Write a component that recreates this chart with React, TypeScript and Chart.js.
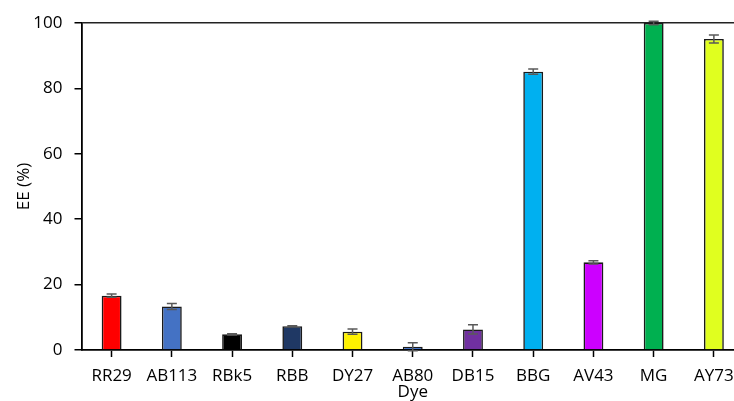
import React, { useEffect, useRef } from "react";
import { Chart, registerables } from "chart.js";

Chart.register(...registerables);

const dyes = ["RR29", "AB113", "RBk5", "RBB", "DY27", "AB80", "DB15", "BBG", "AV43", "MG", "AY73"];
const eeValues = [16.6, 13.3, 4.8, 7.3, 5.6, 1.0, 6.3, 85.1, 26.8, 100, 95.1];
const eeErrors = [0.5, 0.9, 0.2, 0.1, 0.8, 1.2, 1.4, 0.8, 0.5, 0.5, 1.2];
const barColors = [
  "#FF0000", "#4472C4", "#000000", "#1F3864", "#FFF200", "#4472C4",
  "#7030A0", "#00B0F0", "#CC00FF", "#00B050", "#E0FF1F",
];
const yTicks = [0, 20, 40, 60, 80, 100];

const FONT = "'Open Sans', 'Liberation Sans', sans-serif";

// Draws symmetric error bars with caps on top of each bar
const errorBarPlugin = {
  id: "errorBars",
  afterDatasetsDraw(chart: any) {
    const { ctx, scales } = chart;
    const meta = chart.getDatasetMeta(0);
    const y = scales.y;
    ctx.save();
    ctx.strokeStyle = "#595959";
    ctx.lineWidth = 1.5;
    meta.data.forEach((bar: any, i: number) => {
      const v = eeValues[i];
      const e = eeErrors[i];
      const yTop = y.getPixelForValue(v + e);
      const yBot = y.getPixelForValue(v - e);
      const cap = 5;
      ctx.beginPath();
      ctx.moveTo(bar.x, yTop);
      ctx.lineTo(bar.x, yBot);
      ctx.moveTo(bar.x - cap, yTop);
      ctx.lineTo(bar.x + cap, yTop);
      ctx.moveTo(bar.x - cap, yBot);
      ctx.lineTo(bar.x + cap, yBot);
      ctx.stroke();
    });
    ctx.restore();
  },
};

export default function App() {
  const canvasRef = useRef<HTMLCanvasElement | null>(null);

  useEffect(() => {
    if (!canvasRef.current) return;
    const chart = new Chart(canvasRef.current, {
      type: "bar",
      data: {
        labels: dyes,
        datasets: [
          {
            data: eeValues,
            backgroundColor: barColors,
            borderColor: "#1a1a1a",
            borderWidth: 1.6,
            barPercentage: 0.66,
            categoryPercentage: 0.5,
          },
        ],
      },
      options: {
        responsive: false,
        animation: false,
        devicePixelRatio: 1,
        layout: { padding: { top: 23, right: 0, bottom: 0, left: 0 } },
        plugins: {
          legend: { display: false },
          tooltip: { enabled: false },
        },
        scales: {
          x: {
            offset: true,
            afterFit: (scale: any) => {
              scale.height = 51;
            },
            grid: {
              offset: false,
              drawOnChartArea: false,
              drawTicks: true,
              tickLength: 7,
              tickColor: "#000",
              tickWidth: 1.5,
            },
            border: { display: true, color: "#000", width: 1.8 },
            ticks: {
              color: "#000",
              padding: 9,
              maxRotation: 0,
              autoSkip: false,
              font: { family: FONT, size: 17 },
            },
            title: {
              display: true,
              text: "Dye",
              color: "#000",
              padding: { top: 0, bottom: 0 },
              font: { family: FONT, size: 17, lineHeight: 1 },
            },
          },
          y: {
            min: 0,
            max: 100,
            afterFit: (scale: any) => {
              scale.width = 81.5;
            },
            afterBuildTicks: (scale: any) => {
              scale.ticks = yTicks.map((v) => ({ value: v }));
            },
            grid: {
              drawOnChartArea: true,
              color: (c: any) => (c.tick && c.tick.value === 100 ? "#222" : "rgba(0,0,0,0)"),
              lineWidth: 1.5,
              drawTicks: true,
              tickLength: 7,
              tickColor: "#000",
              tickWidth: 1.5,
            },
            border: { display: true, color: "#000", width: 1.8 },
            ticks: {
              color: "#000",
              padding: 12,
              font: { family: FONT, size: 17 },
            },
            title: {
              display: true,
              text: "EE (%)",
              color: "#000",
              padding: { top: 14, bottom: 0 },
              font: { family: FONT, size: 17 },
            },
          },
        },
      },
      plugins: [errorBarPlugin],
    });
    return () => chart.destroy();
  }, []);

  return (
    <div
      style={{
        position: "fixed",
        left: 0,
        top: 0,
        width: 734,
        height: 401,
        overflow: "hidden",
        background: "#fff",
      }}
    >
      <canvas ref={canvasRef} width={744} height={401} style={{ display: "block" }} />
    </div>
  );
}
